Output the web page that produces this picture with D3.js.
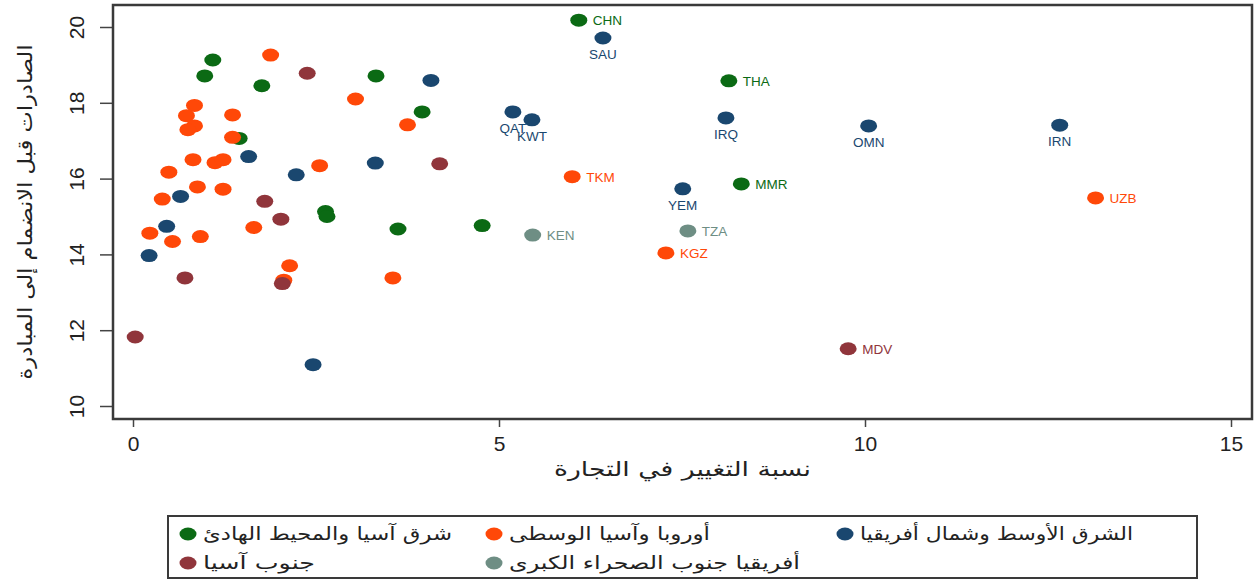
<!DOCTYPE html>
<html><head><meta charset="utf-8">
<script src="https://cdn.jsdelivr.net/npm/d3@7/dist/d3.min.js"></script>
<style>body{margin:0;background:#fff}svg{display:block}</style>
</head><body>
<svg id="c" width="1256" height="581"></svg>
<script>
// ---- data ----
const groupNames = ["شرق آسيا والمحيط الهادئ","أوروبا وآسيا الوسطى","الشرق الأوسط وشمال أفريقيا","جنوب آسيا","أفريقيا جنوب الصحراء الكبرى"];
const groupColors = ["#0b6a14","#ff4808","#1a476f","#90353b","#6e8e84"];
// [x, y, label]
const eastAsiaPacific = [[1.09,19.13],[0.98,18.71],[1.76,18.45],[3.32,18.71],[3.95,17.76],[1.45,17.06],[2.63,15.13],[2.65,15.0],[3.62,14.67],[4.77,14.76],[6.09,20.18,"CHN"],[8.14,18.58,"THA"],[8.31,15.86,"MMR"]];
const europeCentralAsia = [[1.88,19.26],[3.04,18.10],[0.84,17.93],[0.73,17.66],[1.36,17.68],[0.84,17.39],[0.75,17.29],[3.75,17.42],[1.36,17.09],[0.82,16.50],[1.12,16.42],[1.23,16.5],[2.55,16.34],[0.49,16.17],[0.88,15.78],[1.23,15.72],[0.40,15.46],[1.65,14.71],[0.23,14.56],[0.54,14.34],[0.92,14.47],[2.14,13.70],[2.06,13.32],[3.55,13.38],[6.0,16.05,"TKM"],[7.28,14.04,"KGZ"],[13.15,15.49,"UZB"]];
const middleEastNorthAfrica = [[4.07,18.59],[1.58,16.58],[3.31,16.41],[2.23,16.10],[0.65,15.53],[0.46,14.74],[0.22,13.97],[2.46,11.09],[6.42,19.71,"SAU"],[5.19,17.76,"QAT"],[5.45,17.55,"KWT"],[8.1,17.60,"IRQ"],[10.05,17.39,"OMN"],[12.66,17.41,"IRN"],[7.51,15.73,"YEM"]];
const southAsia = [[2.38,18.78],[4.19,16.39],[1.8,15.40],[2.02,14.93],[0.71,13.38],[2.04,13.23],[0.03,11.82],[9.77,11.51,"MDV"]];
const subSaharanAfrica = [[5.46,14.51,"KEN"],[7.58,14.62,"TZA"]];
const groupData = [eastAsiaPacific, europeCentralAsia, middleEastNorthAfrica, southAsia, subSaharanAfrica];
const xTicks = [0,5,10,15];
const yTicks = [10,12,14,16,18,20];
const xTitle = "نسبة التغيير في التجارة";
const yTitle = "الصادرات قبل الانضمام إلى المبادرة";

// ---- layout ----
const svg = d3.select("#c");
const frame = {l:113, r:1252, t:5, b:419};
const x = d3.scaleLinear().domain([0,15]).range([133,1231]);
const y = d3.scaleLinear().domain([10,20]).range([406,27]);
const latin = "'Liberation Sans', Arial, sans-serif";
const arab = "'DejaVu Sans', sans-serif";

function fitWidth(sel, w){
  sel.each(function(){
    const len = this.getComputedTextLength();
    if(len>0){ d3.select(this).attr("textLength", w).attr("lengthAdjust","spacingAndGlyphs"); }
  });
}

// axes
const xAxis = d3.axisBottom(x).tickValues(xTicks).tickSize(8).tickPadding(8).tickFormat(d3.format("d"));
const gx = svg.append("g").attr("transform",`translate(0,${frame.b})`).call(xAxis);
gx.select(".domain").remove();
gx.selectAll("line").attr("stroke","#444").attr("stroke-width",1.5);
gx.selectAll("text").attr("font-family",latin).attr("font-size",21).attr("fill","#222").attr("dy","0.75em");

const yAxis = d3.axisLeft(y).tickValues(yTicks).tickSize(13).tickPadding(0).tickFormat(d3.format("d"));
const gy = svg.append("g").attr("transform",`translate(${frame.l},0)`).call(yAxis);
gy.select(".domain").remove();
gy.selectAll("line").attr("stroke","#444").attr("stroke-width",1.5);
gy.selectAll("text").attr("font-family",latin).attr("font-size",21).attr("fill","#222")
  .attr("x",0).attr("dy",0).attr("text-anchor","middle")
  .attr("transform","translate(-36,0) rotate(-90) translate(0,7)");

// frame
svg.append("rect").attr("x",frame.l).attr("y",frame.t).attr("width",frame.r-frame.l).attr("height",frame.b-frame.t)
  .attr("fill","none").attr("stroke","#3a3a3a").attr("stroke-width",2.5);

// points
groupData.forEach((arr,gi)=>{
  const g = svg.append("g");
  g.selectAll("ellipse").data(arr).join("ellipse")
    .attr("cx",d=>x(d[0])).attr("cy",d=>y(d[1])).attr("rx",8.5).attr("ry",6.5)
    .attr("fill",groupColors[gi]);
  const below = gi===2;
  g.selectAll("text").data(arr.filter(d=>d[2])).join("text")
    .attr("x",d=>below ? x(d[0]) : x(d[0])+14)
    .attr("y",d=>below ? y(d[1])+21 : y(d[1])+5)
    .attr("text-anchor",below?"middle":"start")
    .attr("font-family",latin).attr("font-size",13.5).attr("fill",groupColors[gi])
    .text(d=>d[2]);
});

// titles
svg.append("text").attr("x",(frame.l+frame.r)/2).attr("y",476).attr("text-anchor","middle")
  .attr("font-family",arab).attr("font-size",20).attr("fill","#222").attr("direction","rtl")
  .text(xTitle).call(fitWidth,257);
svg.append("text").attr("transform",`translate(32,${(frame.t+frame.b)/2}) rotate(-90)`).attr("text-anchor","middle")
  .attr("font-family",arab).attr("font-size",20).attr("fill","#222").attr("direction","rtl")
  .text(yTitle).call(fitWidth,335);

// legend
svg.append("rect").attr("x",168).attr("y",516).attr("width",1029).attr("height",62)
  .attr("fill","#fff").attr("stroke","#3a3a3a").attr("stroke-width",2);
const legendPos = [[188,534],[494,534],[845,534],[188,563],[494,563]];
const legendW = [249,201,273,112,291];
groupNames.forEach((name,i)=>{
  const [lx,ly] = legendPos[i];
  svg.append("ellipse").attr("cx",lx).attr("cy",ly).attr("rx",8.5).attr("ry",6.5).attr("fill",groupColors[i]);
  svg.append("text").attr("x",lx+15+legendW[i]).attr("y",ly+6).attr("text-anchor","start")
    .attr("direction","rtl")
    .attr("font-family",arab).attr("font-size",18).attr("fill","#222")
    .text(name).call(fitWidth,legendW[i]);
});
</script>
</body></html>
